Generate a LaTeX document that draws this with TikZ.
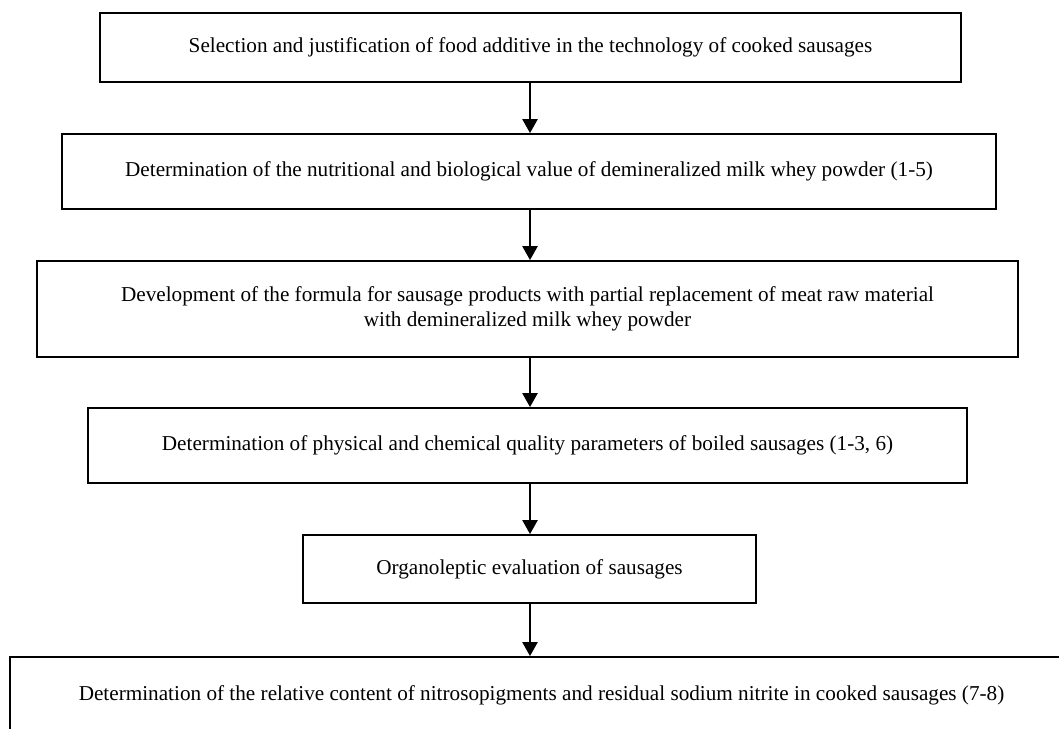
\documentclass[tikz,border=0pt]{standalone}
\usepackage{fontspec}
\setmainfont{Liberation Serif}
\usetikzlibrary{arrows.meta}
\begin{document}
\begin{tikzpicture}[x=1pt,y=-1pt,
  stepbox/.style={draw=black, line width=1.8pt, inner sep=0pt, align=center,
    font=\fontsize{21.2}{24.4}\selectfont},
  arr/.style={line width=2.4pt, -{Triangle[width=15pt,length=14pt]}}]
\useasboundingbox (0,0) rectangle (1059,728);
\clip (0,0) rectangle (1059,728);
\fill[white] (0,0) rectangle (1059,728);
\coordinate (ax) at (530,0);
\node[stepbox, minimum width=861pt, minimum height=69pt] (b1) at (530.5,47.5)
  {Selection and justification of food additive in the technology of cooked sausages};
\node[stepbox, minimum width=934pt, minimum height=75pt] (b2) at (529,171.5)
  {Determination of the nutritional and biological value of demineralized milk whey powder (1-5)};
\node[stepbox, minimum width=981pt, minimum height=96pt] (b3) at (527.5,309)
  {Development of the formula for sausage products with partial replacement of meat raw material\\with demineralized milk whey powder};
\node[stepbox, minimum width=879pt, minimum height=75pt] (b4) at (527.5,445.5)
  {Determination of physical and chemical quality parameters of boiled sausages (1-3, 6)};
\node[stepbox, minimum width=453pt, minimum height=68pt] (b5) at (529.5,569)
  {Organoleptic evaluation of sausages};
\node[stepbox, minimum width=1063pt, minimum height=76pt] (b6) at (541.5,695)
  {Determination of the relative content of nitrosopigments and residual sodium nitrite in cooked sausages (7-8)};
\draw[arr] (b1.south -| ax) -- (b2.north -| ax);
\draw[arr] (b2.south -| ax) -- (b3.north -| ax);
\draw[arr] (b3.south -| ax) -- (b4.north -| ax);
\draw[arr] (b4.south -| ax) -- (b5.north -| ax);
\draw[arr] (b5.south -| ax) -- (b6.north -| ax);
\end{tikzpicture}
\end{document}
